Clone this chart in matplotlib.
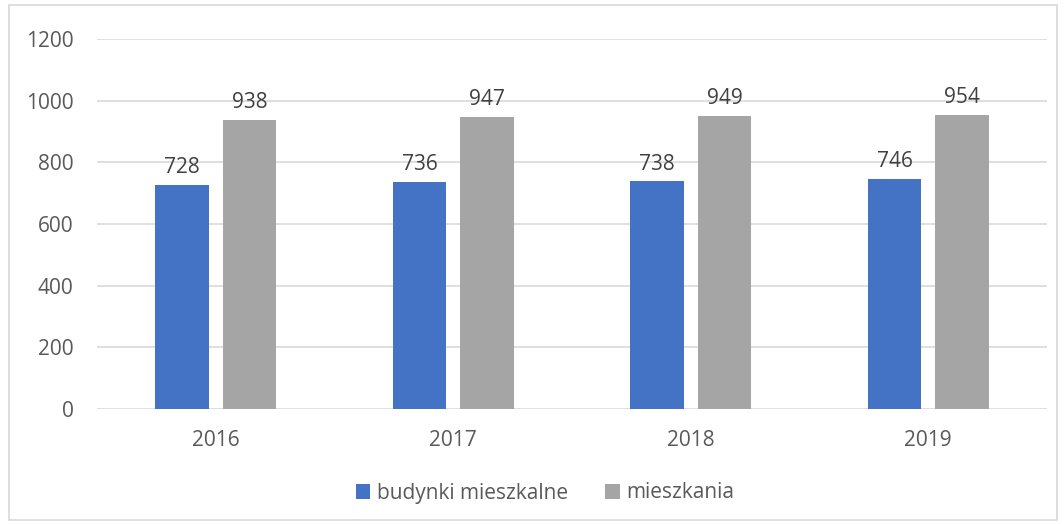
import matplotlib.pyplot as plt
import numpy as np
from matplotlib.patches import Rectangle

years = ['2016', '2017', '2018', '2019']
budynki = [728, 736, 738, 746]
mieszkania = [938, 947, 949, 954]
series_names = ['budynki mieszkalne', 'mieszkania']

plt.rcParams['font.family'] = ['Open Sans', 'DejaVu Sans']
txt = '#595959'
grid_c = '#d9d9d9'
fs = 15

fig = plt.figure(figsize=(10.64, 5.24), dpi=100)
ax = fig.add_axes([97 / 1064, 1 - 409 / 524, 950 / 1064, 370 / 524])

# chart border
fig.patches.append(Rectangle((9 / 1064, 4 / 524), 1048 / 1064, 515 / 524,
                             transform=fig.transFigure, fill=False,
                             edgecolor=grid_c, linewidth=1.2))

x = np.arange(len(years))
w = 0.225
off = 0.142
b1 = ax.bar(x - off, budynki, w, color='#4472C4', label=series_names[0], zorder=3)
b2 = ax.bar(x + off, mieszkania, w, color='#A5A5A5', label=series_names[1], zorder=3)

for bars, vals in [(b1, budynki), (b2, mieszkania)]:
    for r, v in zip(bars, vals):
        ax.annotate(str(v), (r.get_x() + r.get_width() / 2, v),
                    xytext=(0, 5), textcoords='offset points',
                    ha='center', va='bottom', fontsize=fs, color='#404040')

ax.set_xlim(-0.5, 3.5)
ax.set_ylim(0, 1200)
ax.set_yticks(range(0, 1201, 200))
ax.set_xticks(x)
ax.set_xticklabels(years)
ax.grid(axis='y', color=grid_c, linewidth=1.2, zorder=0)
for s in ax.spines.values():
    s.set_visible(False)
ax.tick_params(length=0, labelsize=fs, labelcolor=txt)
ax.tick_params(axis='y', pad=17)
ax.tick_params(axis='x', pad=15)

fig.legend(loc='center', bbox_to_anchor=(545 / 1064, 1 - 493 / 524), ncol=2,
           frameon=False, fontsize=fs, labelcolor=txt, handlelength=0.7,
           handleheight=0.7, handletextpad=0.3, columnspacing=1.8)

fig.savefig('out.png', dpi=100)
